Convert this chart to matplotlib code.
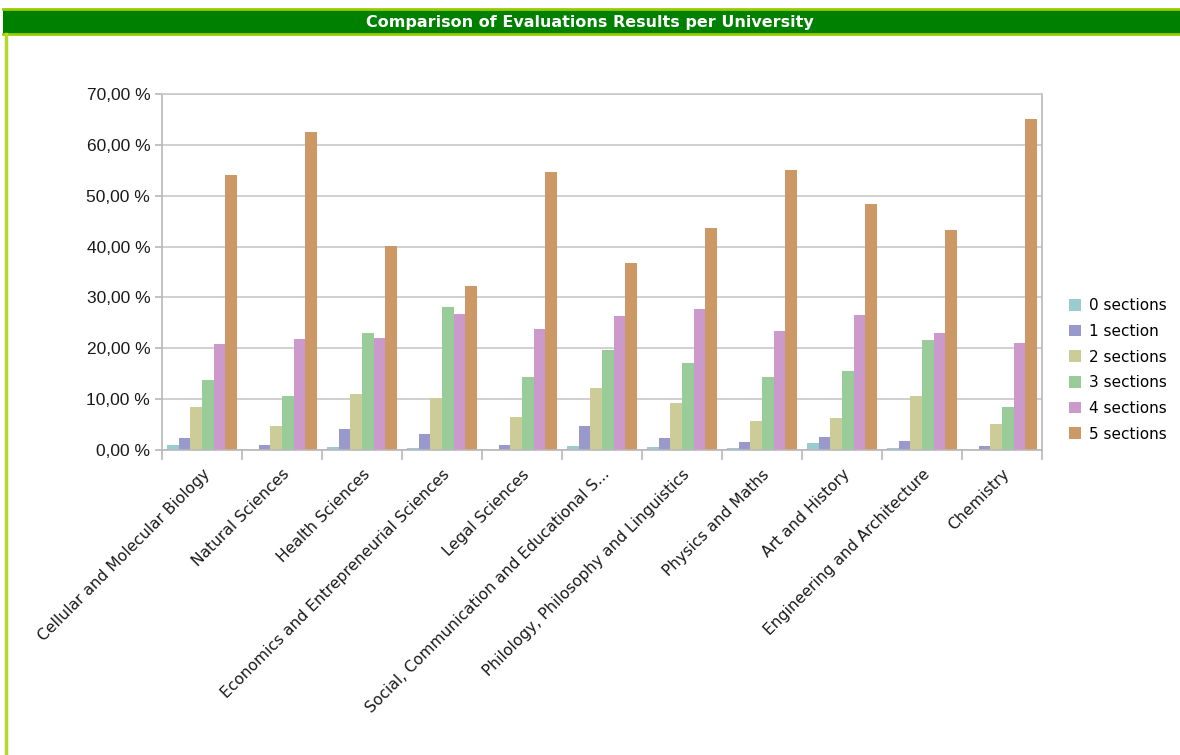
import numpy as np
import matplotlib.pyplot as plt
from matplotlib.patches import Rectangle
from matplotlib.lines import Line2D
from matplotlib.ticker import FuncFormatter

categories = [
    "Cellular and Molecular Biology",
    "Natural Sciences",
    "Health Sciences",
    "Economics and Entrepreneurial Sciences",
    "Legal Sciences",
    "Social, Communication and Educational S...",
    "Philology, Philosophy and Linguistics",
    "Physics and Maths",
    "Art and History",
    "Engineering and Architecture",
    "Chemistry",
]
series_names = ["0 sections", "1 section", "2 sections", "3 sections", "4 sections", "5 sections"]

sec0 = [0.9, 0.0, 0.5, 0.3, 0.0, 0.7, 0.5, 0.3, 1.3, 0.3, 0.0]
sec1 = [2.3, 0.9, 4.1, 3.1, 0.9, 4.7, 2.3, 1.5, 2.5, 1.7, 0.7]
sec2 = [8.5, 4.7, 11.0, 10.2, 6.4, 12.2, 9.2, 5.7, 6.3, 10.6, 5.1]
sec3 = [13.8, 10.6, 23.0, 28.1, 14.4, 19.7, 17.1, 14.4, 15.5, 21.6, 8.5]
sec4 = [20.8, 21.8, 22.0, 26.7, 23.8, 26.3, 27.7, 23.4, 26.5, 23.0, 21.0]
sec5 = [54.1, 62.6, 40.1, 32.2, 54.7, 36.8, 43.6, 55.1, 48.4, 43.3, 65.1]
series = [sec0, sec1, sec2, sec3, sec4, sec5]

colors = ["#99cccc", "#9999cc", "#cccc99", "#99cc99", "#cc99cc", "#cc9966"]

fig = plt.figure(figsize=(11.8, 7.55), dpi=100)

# title banner and frame
fig.patches.append(Rectangle((3 / 1180, 1 - 34 / 755), 1, 25 / 755,
                             transform=fig.transFigure, facecolor="#008000",
                             edgecolor="none", zorder=0))
fig.add_artist(Line2D([3 / 1180, 1], [1 - 9 / 755] * 2, color="#99cc00", lw=2))
fig.add_artist(Line2D([3 / 1180, 1], [1 - 34 / 755] * 2, color="#99cc00", lw=2))
fig.add_artist(Line2D([6 / 1180] * 2, [0, 1 - 34 / 755], color="#b5d92a", lw=2.5))
fig.text(0.5, 1 - 22 / 755, "Comparison of Evaluations Results per University",
         ha="center", va="center", color="white", fontsize=11.5, fontweight="bold",
         family="DejaVu Sans")

ax = fig.add_axes([162 / 1180, 1 - 450 / 755, 880 / 1180, 356 / 755])

n = len(series)
bw = 0.146
x = np.arange(len(categories))
for i, (vals, name, c) in enumerate(zip(series, series_names, colors)):
    ax.bar(x + (i - (n - 1) / 2) * bw, vals, width=bw, color=c, label=name, zorder=2)

ax.set_xlim(-0.5, len(categories) - 0.5)
ax.set_ylim(0, 70)
ax.set_yticks(np.arange(0, 71, 10))
ax.yaxis.set_major_formatter(FuncFormatter(lambda v, p: f"{v:.2f} %".replace(".", ",")))
ax.grid(axis="y", color="#c8c8c8", lw=1.2, zorder=0)
for s in ax.spines.values():
    s.set_color("#b8b8b8")
    s.set_linewidth(1.2)
ax.spines["top"].set_color("#c8c8c8")

ax.set_xticks(np.arange(-0.5, len(categories), 1.0))
ax.set_xticklabels([])
ax.set_xticks(x, minor=True)
ax.set_xticklabels(categories, minor=True, rotation=45, ha="right",
                   rotation_mode="anchor", fontsize=11.2, color="#1a1a1a")
ax.tick_params(axis="x", which="major", length=7, color="#b8b8b8", width=1.2)
ax.tick_params(axis="x", which="minor", length=0, pad=12)
ax.tick_params(axis="y", length=5, color="#b8b8b8", width=1.2, labelsize=12.5,
               labelcolor="#1a1a1a")
for t in ax.get_yticklabels():
    t.set_family("Liberation Sans")

ax.legend(loc="center left", bbox_to_anchor=(1.015, 0.225), frameon=False,
          fontsize=11, handlelength=0.8, handleheight=0.8, handletextpad=0.5,
          labelspacing=0.7)

fig.savefig("out.png", dpi=100)
